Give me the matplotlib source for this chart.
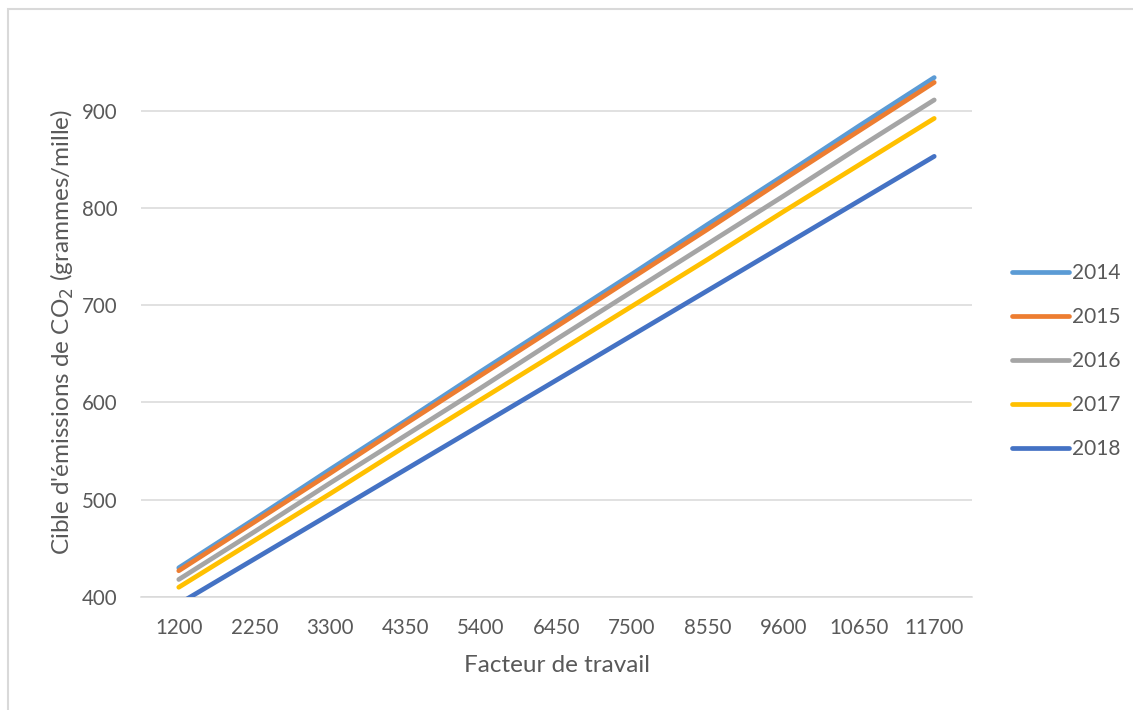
import matplotlib
matplotlib.use("Agg")
import matplotlib.pyplot as plt
from matplotlib.patches import Rectangle

categories = ["1200", "2250", "3300", "4350", "5400", "6450", "7500", "8550", "9600", "10650", "11700"]
years = ["2014", "2015", "2016", "2017", "2018"]
s2014 = [430, 480, 531, 581, 632, 682, 732, 783, 833, 884, 934]
s2015 = [427, 477, 527, 578, 628, 678, 728, 778, 829, 879, 929]
s2016 = [418, 467, 517, 566, 615, 665, 714, 763, 812, 862, 911]
s2017 = [410, 458, 506, 555, 603, 651, 699, 747, 796, 844, 892]
s2018 = [393, 439, 485, 531, 577, 623, 669, 715, 761, 807, 853]
series = [s2014, s2015, s2016, s2017, s2018]
colors = ["#5B9BD5", "#ED7D31", "#A5A5A5", "#FFC000", "#4472C4"]
yticks = [400, 500, 600, 700, 800, 900]

plt.rcParams['font.family'] = ['Lato', 'DejaVu Sans']
W, H = 1133, 710
fig = plt.figure(figsize=(W/100, H/100), dpi=100)
fig.patches.append(Rectangle((8/W, 0 - 0.05), 1.2, 1 - 9/H + 0.05, transform=fig.transFigure,
                             fill=False, edgecolor="#D9D9D9", linewidth=1.5))
ax = fig.add_axes([141/W, 1 - 597/H, (972-141)/W, (597-62)/H])
x = list(range(len(categories)))
handles = []
for yr, vals, c in zip(years, series, colors):
    h, = ax.plot(x, vals, color=c, linewidth=3.4, solid_capstyle='round', label=yr, zorder=3)
    handles.append(h)
ax.set_xlim(-0.5, len(categories) - 0.5)
ax.set_ylim(400, 950)
ax.set_xticks(x)
ax.set_xticklabels(categories)
ax.set_yticks(yticks)
ax.tick_params(axis='both', length=0, labelsize=14.8, labelcolor="#595959")
ax.tick_params(axis='y', pad=17)
ax.tick_params(axis='x', pad=15)
ax.grid(axis='y', color="#D9D9D9", linewidth=1.1)
ax.set_axisbelow(True)
for sp in ["top", "right", "left"]:
    ax.spines[sp].set_visible(False)
ax.spines["bottom"].set_color("#D9D9D9")
ax.spines["bottom"].set_linewidth(1.1)

fig.text(556.5/W, 1 - 666/H, "Facteur de travail", ha='center', va='center', fontsize=17.5, color="#595959")
fig.text(62/W, 1 - 332/H, "Cible d'émissions de CO$_2$ (grammes/mille)", ha='center', va='center',
         rotation=90, fontsize=17.5, color="#595959")

leg = fig.legend(handles=handles, loc='center left', bbox_to_anchor=(1004/W, 1 - 361/H),
                 frameon=False, fontsize=15, handlelength=2.7, handletextpad=0.15,
                 labelspacing=1.15, borderaxespad=0)
for t in leg.get_texts():
    t.set_color("#595959")

fig.savefig("out.png", dpi=100)
